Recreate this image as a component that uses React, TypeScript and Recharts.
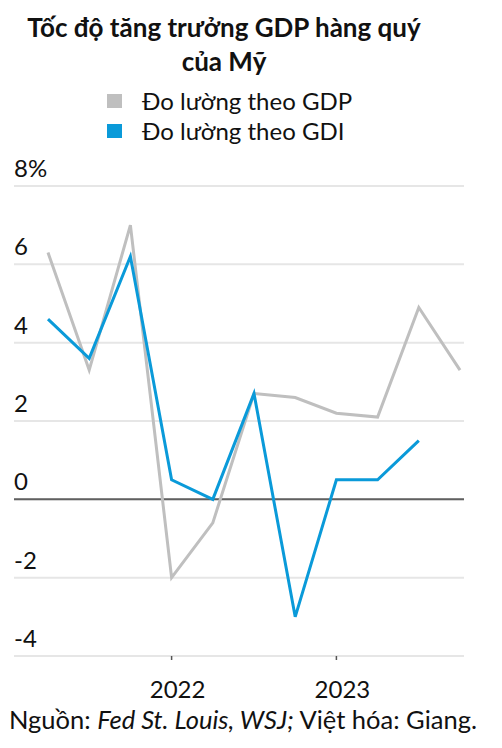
import React from 'react';
import { LineChart, Line, XAxis, YAxis, CartesianGrid, ReferenceLine } from 'recharts';

const quarters = ['2021Q2', '2021Q3', '2021Q4', '2022Q1', '2022Q2', '2022Q3', '2022Q4', '2023Q1', '2023Q2', '2023Q3', '2023Q4'];
const gdpValues = [6.3, 3.3, 7.0, -2.0, -0.6, 2.7, 2.6, 2.2, 2.1, 4.9, 3.3];
const gdiValues: (number | null)[] = [4.6, 3.6, 6.2, 0.5, 0.0, 2.7, -3.0, 0.5, 0.5, 1.5, null];
const yTicks = [-4, -2, 0, 2, 4, 6, 8];
const xTicks = ['2022Q1', '2023Q1'];
const seriesNames = ['Đo lường theo GDP', 'Đo lường theo GDI'];

const GRAY = '#bfbfbf';
const BLUE = '#0a9ad9';
const FONT = 'Lato, "Open Sans", sans-serif';

const data = quarters.map((q, i) => ({ q, gdp: gdpValues[i], gdi: gdiValues[i] }));

const YTick = ({ y, payload }: any) => (
  <text x={14} y={y - 9} textAnchor="start" fontSize={24} fill="#111" fontFamily={FONT}>
    {payload.value === 8 ? '8%' : payload.value}
  </text>
);

const XTick = ({ x, y, payload }: any) => (
  <text x={x + 6} y={y + 36} textAnchor="middle" fontSize={24} fill="#111" fontFamily={FONT}>
    {String(payload.value).slice(0, 4)}
  </text>
);

export default function App() {
  return (
    <div style={{ position: 'absolute', left: 0, top: 0, width: 502, height: 748, background: '#fff', fontFamily: FONT, color: '#111' }}>
      <div style={{ position: 'absolute', left: 0, width: 448, top: 10, textAlign: 'center', fontWeight: 700, fontSize: 26, lineHeight: '34px' }}>
        Tốc độ tăng trưởng GDP hàng quý<br />của Mỹ
      </div>
      <div style={{ position: 'absolute', left: 107, top: 86, fontSize: 24, lineHeight: '30px' }}>
        {seriesNames.map((name, i) => (
          <div key={name} style={{ display: 'flex', alignItems: 'center' }}>
            <span style={{ display: 'inline-block', width: 15, height: 14, background: i === 0 ? GRAY : BLUE, marginRight: 20 }} />
            <span>{name}</span>
          </div>
        ))}
      </div>
      <div style={{ position: 'absolute', left: 0, top: 0 }}>
        <LineChart width={502} height={748} data={data} margin={{ top: 186, right: 38, left: 0, bottom: 88 }}>
          <CartesianGrid horizontal vertical={false} stroke="#e6e6e6" strokeWidth={2} />
          <XAxis
            dataKey="q"
            ticks={xTicks}
            interval={0}
            tick={<XTick />}
            axisLine={false}
            tickLine={{ stroke: '#555', strokeWidth: 1.5 }}
            tickSize={4}
            padding={{ left: 34, right: 4 }}
            height={4}
          />
          <YAxis
            domain={[-4, 8]}
            ticks={yTicks}
            width={14}
            axisLine={false}
            tickLine={false}
            tick={<YTick />}
            interval={0}
          />
          <ReferenceLine y={0} stroke="#606060" strokeWidth={2} />
          <Line type="linear" dataKey="gdp" name={seriesNames[0]} stroke={GRAY} strokeWidth={3} dot={false} isAnimationActive={false} />
          <Line type="linear" dataKey="gdi" name={seriesNames[1]} stroke={BLUE} strokeWidth={3} dot={false} isAnimationActive={false} connectNulls={false} />
        </LineChart>
      </div>
      <div style={{ position: 'absolute', left: 9, top: 704, fontSize: 25.5, whiteSpace: 'nowrap' }}>
        Nguồn: <i>Fed St. Louis, WSJ;</i> Việt hóa: Giang.
      </div>
    </div>
  );
}
